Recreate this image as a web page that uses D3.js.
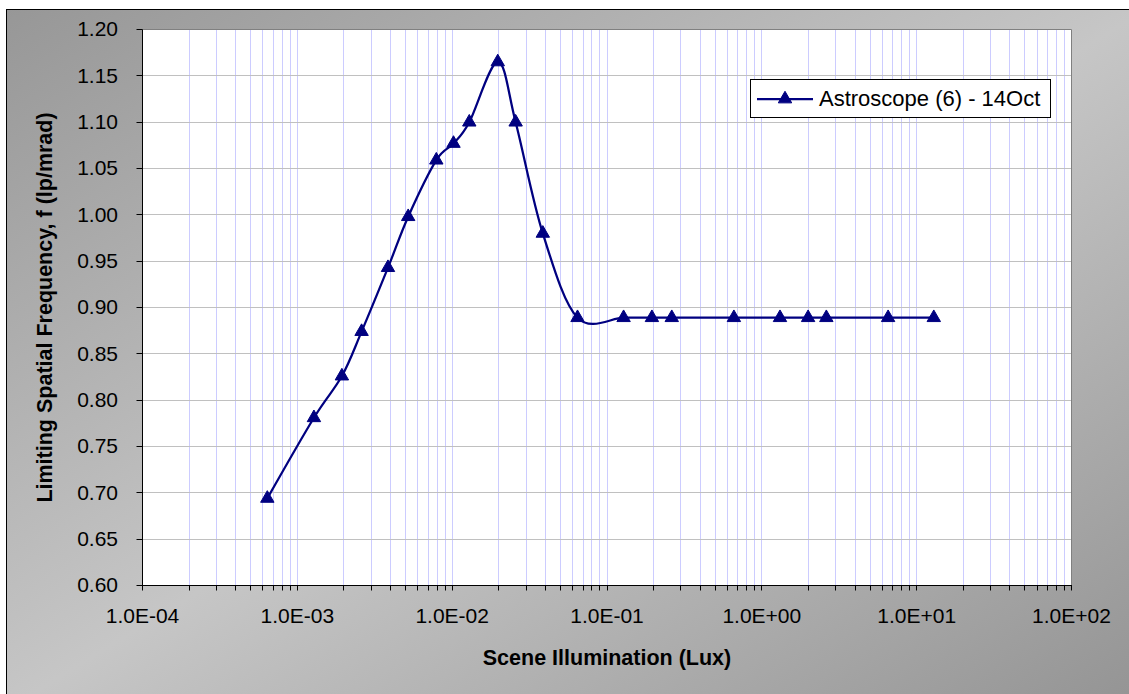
<!DOCTYPE html>
<html>
<head>
<meta charset="utf-8">
<script src="https://cdn.jsdelivr.net/npm/d3@7"></script>
<style>
  html, body { margin: 0; padding: 0; background: #fff; }
  svg { display: block; }
</style>
</head>
<body>
<div id="chart"></div>
<script>
// Scene illumination (lux) and limiting spatial frequency (lp/mrad)
const illum = [6.4e-4, 1.28e-3, 1.94e-3, 2.6e-3, 3.85e-3, 5.2e-3, 7.9e-3, 1.02e-2, 1.29e-2,
  1.97e-2, 2.57e-2, 3.85e-2, 6.45e-2, 0.128, 0.195, 0.262, 0.66, 1.31, 1.99, 2.61, 6.54, 12.9];
const freq = [0.694, 0.781, 0.826, 0.874, 0.943, 0.998, 1.059, 1.077, 1.100,
  1.165, 1.100, 0.980, 0.889, 0.889, 0.889, 0.889, 0.889, 0.889, 0.889, 0.889, 0.889, 0.889];
const seriesName = 'Astroscope (6) - 14Oct';
const yTicks = [0.60, 0.65, 0.70, 0.75, 0.80, 0.85, 0.90, 0.95, 1.00, 1.05, 1.10, 1.15, 1.20];
const xMajor = [1e-4, 1e-3, 1e-2, 1e-1, 1, 10, 100];
const xTickLabels = ['1.0E-04', '1.0E-03', '1.0E-02', '1.0E-01', '1.0E+00', '1.0E+01', '1.0E+02'];

const W = 1129, H = 694;
const plot = { left: 142.5, right: 1071.5, top: 29.5, bottom: 585.5 };
const NAVY = '#000080';
const FONT = '"Liberation Sans", Arial, sans-serif';

const svg = d3.select('#chart').append('svg')
  .attr('width', W).attr('height', H)
  .style('font-family', FONT);

// chart area background: diagonal gray gradient, light band in the middle
const defs = svg.append('defs');
const grad = defs.append('linearGradient').attr('id', 'bg')
  .attr('x1', 0).attr('y1', 0).attr('x2', 1).attr('y2', 1);
grad.append('stop').attr('offset', '0%').attr('stop-color', '#979797');
grad.append('stop').attr('offset', '50%').attr('stop-color', '#c6c6c6');
grad.append('stop').attr('offset', '100%').attr('stop-color', '#939393');

svg.append('rect')
  .attr('x', 6.5).attr('y', 9.5).attr('width', 1140).attr('height', 700)
  .attr('fill', 'url(#bg)').attr('stroke', '#000').attr('stroke-width', 1);

const x = d3.scaleLog().domain([1e-4, 100]).range([plot.left, plot.right]);
const y = d3.scaleLinear().domain([0.6, 1.2]).range([plot.bottom, plot.top]);
const crisp = v => Math.round(v - 0.5) + 0.5;

svg.append('rect')
  .attr('x', plot.left).attr('y', plot.top)
  .attr('width', plot.right - plot.left).attr('height', plot.bottom - plot.top)
  .attr('fill', '#fff');

// minor + major positions along x (2..9 within each decade)
const xAll = [];
for (let e = -4; e < 2; e++) {
  for (let k = 1; k <= 9; k++) xAll.push(k * Math.pow(10, e));
}
xAll.push(100);

const grid = svg.append('g');
grid.selectAll('line.v').data(xAll.filter(v => v > 1e-4 && v < 100)).join('line')
  .attr('class', 'v')
  .attr('x1', d => crisp(x(d))).attr('x2', d => crisp(x(d)))
  .attr('y1', plot.top).attr('y2', plot.bottom)
  .attr('stroke', '#ccccff').attr('stroke-width', 1);
grid.selectAll('line.h').data(yTicks.slice(1)).join('line')
  .attr('class', 'h')
  .attr('x1', plot.left).attr('x2', plot.right)
  .attr('y1', d => crisp(y(d))).attr('y2', d => crisp(y(d)))
  .attr('stroke', '#c0c0c0').attr('stroke-width', 1);

// plot border (top/right gray)
svg.append('path')
  .attr('d', `M${plot.left},${plot.top}H${plot.right}V${plot.bottom}`)
  .attr('fill', 'none').attr('stroke', '#808080').attr('stroke-width', 1);

// axes
const axes = svg.append('g').attr('stroke', '#000').attr('stroke-width', 1);
axes.append('line').attr('x1', plot.left).attr('x2', plot.left)
  .attr('y1', plot.top).attr('y2', plot.bottom + 0.5);
axes.append('line').attr('x1', plot.left - 0.5).attr('x2', plot.right + 0.5)
  .attr('y1', plot.bottom).attr('y2', plot.bottom);
axes.selectAll('line.yt').data(yTicks).join('line').attr('class', 'yt')
  .attr('x1', plot.left - 6).attr('x2', plot.left)
  .attr('y1', d => crisp(y(d))).attr('y2', d => crisp(y(d)));
axes.selectAll('line.xt').data(xAll).join('line').attr('class', 'xt')
  .attr('x1', d => crisp(x(d))).attr('x2', d => crisp(x(d)))
  .attr('y1', plot.bottom).attr('y2', plot.bottom + 5);

svg.append('g').selectAll('text').data(yTicks).join('text')
  .attr('x', 118).attr('y', d => y(d)).attr('dy', '0.33em')
  .attr('text-anchor', 'end').style('font-size', '21px').attr('fill', '#000')
  .text(d => d.toFixed(2));

svg.append('g').selectAll('text').data(xMajor).join('text')
  .attr('x', d => x(d)).attr('y', 623)
  .attr('text-anchor', 'middle').style('font-size', '21px').attr('fill', '#000')
  .text((d, i) => xTickLabels[i]);

// axis titles
svg.append('text')
  .attr('x', (plot.left + plot.right) / 2).attr('y', 665)
  .attr('text-anchor', 'middle').style('font-size', '21.5px').style('font-weight', 'bold')
  .text('Scene Illumination (Lux)');
svg.append('text')
  .attr('transform', `translate(52,${(plot.top + plot.bottom) / 2}) rotate(-90)`)
  .attr('text-anchor', 'middle').style('font-size', '21.5px').style('font-weight', 'bold')
  .text('Limiting Spatial Frequency, f (lp/mrad)');

// series
const pts = illum.map((v, i) => [x(v), y(freq[i])]);
svg.append('path')
  .attr('d', d3.line().curve(d3.curveCardinal.tension(0))(pts))
  .attr('fill', 'none').attr('stroke', NAVY).attr('stroke-width', 2.25);

const tri = d3.symbol().type(d3.symbolTriangle).size(78);
svg.append('g').selectAll('path').data(pts).join('path')
  .attr('transform', d => `translate(${d[0]},${d[1]})`)
  .attr('d', tri).attr('fill', NAVY).attr('stroke', NAVY).attr('stroke-width', 1);

// legend
const lg = svg.append('g');
lg.append('rect').attr('x', 750.5).attr('y', 79.5).attr('width', 300).attr('height', 38)
  .attr('fill', '#fff').attr('stroke', '#000').attr('stroke-width', 1);
lg.append('line').attr('x1', 757).attr('x2', 813).attr('y1', 99).attr('y2', 99)
  .attr('stroke', NAVY).attr('stroke-width', 2.25);
lg.append('path').attr('transform', 'translate(785,99)').attr('d', tri)
  .attr('fill', NAVY).attr('stroke', NAVY);
lg.append('text').attr('x', 819).attr('y', 105.5)
  .style('font-size', '22px').attr('fill', '#000').text(seriesName);
</script>
</body>
</html>
